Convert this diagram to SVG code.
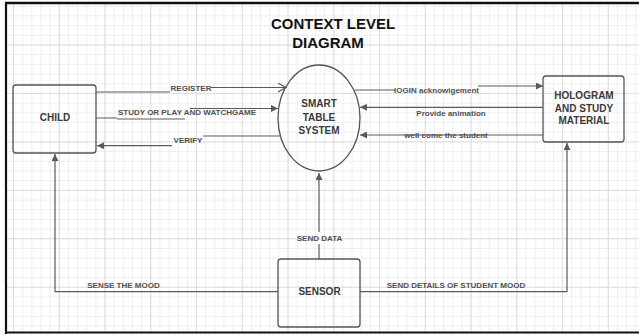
<svg xmlns="http://www.w3.org/2000/svg" width="639" height="335" viewBox="0 0 639 335">
<defs>
<style>
.node{fill:none;stroke:#555;stroke-width:1.3}
.nt{font-family:"Liberation Sans",Arial,sans-serif;font-weight:bold;font-size:10px;fill:#3a3a3a;text-anchor:middle}
.title{font-family:"Liberation Sans",Arial,sans-serif;font-weight:bold;font-size:15px;fill:#111;text-anchor:middle}
.lbl{font-family:"Liberation Sans",Arial,sans-serif;font-weight:bold;font-size:8px;fill:#505050;text-anchor:middle}
.c{fill:none;stroke:#5a5a5a;stroke-width:1.2;stroke-linejoin:round}
</style>
<pattern id="gmin" width="9.15" height="9.69" patternUnits="userSpaceOnUse" x="13.05" y="44.5">
<path d="M0.5,0V9.69M0,0.5H9.15" stroke="#eeeeee" stroke-width="1" fill="none"/>
</pattern>
<pattern id="gmaj" width="45.75" height="48.45" patternUnits="userSpaceOnUse" x="13.05" y="44.5">
<path d="M0.5,0V48.45M0,0.5H45.75" stroke="#dddddd" stroke-width="1" fill="none"/>
</pattern>
<marker id="arr" markerWidth="8" markerHeight="7" refX="7" refY="3.5" orient="auto" markerUnits="userSpaceOnUse">
<path d="M0,0L7,3.5L0,7Z" fill="#5a5a5a"/>
</marker>
<marker id="open" markerWidth="10" markerHeight="10" refX="8" refY="5" orient="auto" markerUnits="userSpaceOnUse">
<path d="M0,0.5L8,5L0,9.5" fill="none" stroke="#5a5a5a" stroke-width="1.2"/>
</marker>
</defs>
<rect x="0" y="0" width="639" height="335" fill="#fff"/>
<rect x="7" y="4" width="632" height="327.5" fill="url(#gmin)"/>
<rect x="7" y="4" width="632" height="327.5" fill="url(#gmaj)"/>
<g id="frame" stroke="#111" fill="none">
<path d="M5,3H639" stroke-width="2.5"/>
<path d="M6,2V334" stroke-width="2.2"/>
<path d="M5,332.5H639" stroke-width="2.2"/>
</g>
<g id="title">
<text class="title" x="333" y="29">CONTEXT LEVEL</text>
<text class="title" x="328" y="48">DIAGRAM</text>
</g>
<g id="connectors">
<path class="c" d="M96,92H170M211,87.5H286" marker-end="url(#open)"/>
<text class="lbl" x="191" y="91">REGISTER</text>
<path class="c" d="M96,118H117M117,119H185M190,108.5H278" marker-end="url(#arr)"/>
<text class="lbl" x="187" y="115">STUDY OR PLAY AND WATCHGAME</text>
<path class="c" d="M280,136H203M172,145.7H97" marker-end="url(#arr)"/>
<text class="lbl" x="188" y="143">VERIFY</text>
<path class="c" d="M355,90H395M478,86H543" marker-end="url(#arr)"/>
<text class="lbl" x="436.5" y="93">lOGIN acknowigement</text>
<path class="c" d="M543,107.3H360" marker-end="url(#arr)"/>
<text class="lbl" x="451" y="116">Provide animation</text>
<path class="c" d="M543,135H360" marker-end="url(#arr)"/>
<text class="lbl" x="446" y="138">well come the student</text>
<path class="c" d="M319,259V244M319,232V173" marker-end="url(#arr)"/>
<text class="lbl" x="319.5" y="241">SEND DATA</text>
<path class="c" d="M278,291.7H55V154" marker-end="url(#arr)"/>
<text class="lbl" x="123.5" y="288">SENSE THE MOOD</text>
<path class="c" d="M360,291.7H567V143" marker-end="url(#arr)"/>
<text class="lbl" x="456" y="288">SEND DETAILS OF STUDENT MOOD</text>
</g>
<g id="child">
<rect class="node" x="13" y="85" width="83" height="68" rx="3"/>
<text class="nt" x="55" y="121">CHILD</text>
</g>
<g id="smart-table-system">
<ellipse class="node" cx="319" cy="118" rx="41" ry="53"/>
<text class="nt" x="319" y="107">SMART</text>
<text class="nt" x="319" y="121">TABLE</text>
<text class="nt" x="319" y="134">SYSTEM</text>
</g>
<g id="hologram">
<rect class="node" x="543" y="76" width="81" height="66" rx="3"/>
<text class="nt" x="584" y="98.5">HOLOGRAM</text>
<text class="nt" x="584" y="111.5">AND STUDY</text>
<text class="nt" x="584" y="124">MATERIAL</text>
</g>
<g id="sensor">
<rect class="node" x="278" y="259" width="82" height="68" rx="3"/>
<text class="nt" x="319.5" y="295">SENSOR</text>
</g>
</svg>
